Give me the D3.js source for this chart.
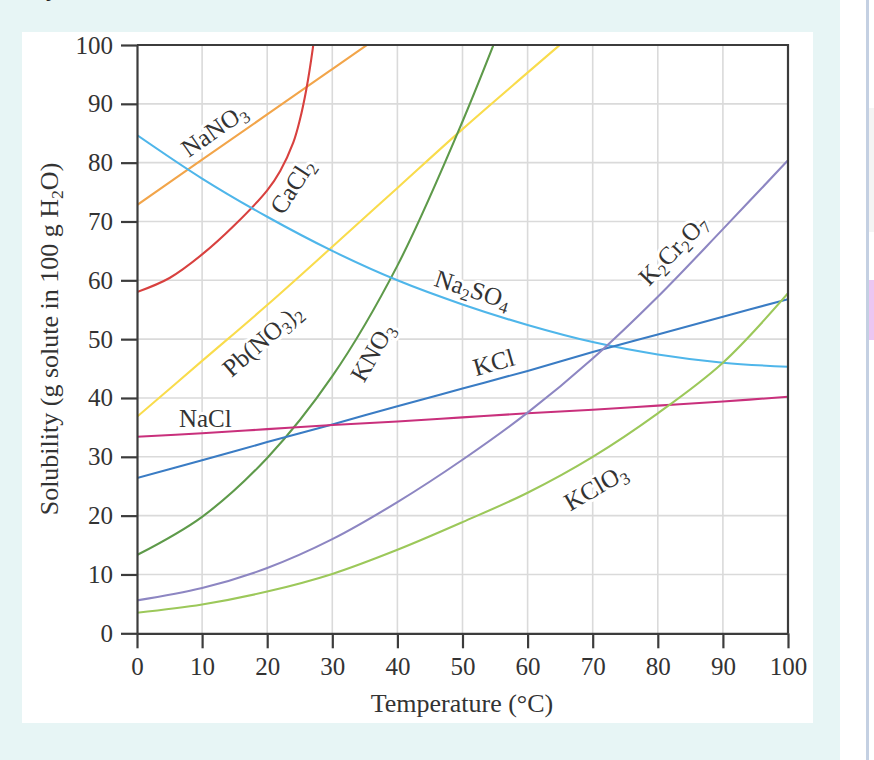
<!DOCTYPE html>
<html><head><meta charset="utf-8">
<script src="https://cdn.jsdelivr.net/npm/d3@7"></script>
<style>
html,body{margin:0;padding:0;background:#fff;}
svg{display:block;}
</style></head>
<body>
<svg id="chart" width="874" height="760"></svg>
<script>
// ---------- data ----------
const temps = [0,10,20,30,40,50,60,70,80,90,100];
const tempsCaCl2 = [0,5,10,15,20,22,24,25,26,27,28];
const NaNO3   = [72.8,80.5,88.2,95.9,103.6,null,null,null,null,null,null];
const CaCl2   = [58,60.4,64.4,69.4,75.3,78.6,83.4,87.2,92.4,99.4,108.5];
const Na2SO4  = [84.7,77.3,70.8,65,60,55.9,52.4,49.5,47.4,46,45.3];
const PbNO32  = [36.8,46.3,55.8,65.7,75.7,85.7,95.3,104.8,null,null,null];
const KNO3    = [13.3,19.8,29.8,43.7,62.5,87,115,null,null,null,null];
const KCl     = [26.4,29.4,32.5,35.5,38.6,41.6,44.6,47.8,50.8,53.8,56.8];
const NaCl    = [33.4,34,34.7,35.4,36,36.7,37.4,38,38.7,39.4,40.2];
const K2Cr2O7 = [5.6,7.7,11.1,16,22.3,29.5,37.5,46.7,57.2,68.7,80.4];
const KClO3   = [3.5,4.9,7.1,10.1,14.2,18.9,23.9,30,37.4,46,57.8];
const xTicks = [0,10,20,30,40,50,60,70,80,90,100];
const yTicks = [0,10,20,30,40,50,60,70,80,90,100];

const series = [
  {name:"NaNO3",   t:temps,      v:NaNO3,   color:"#f2a54a"},
  {name:"CaCl2",   t:tempsCaCl2, v:CaCl2,   color:"#d8413f"},
  {name:"Pb",      t:temps,      v:PbNO32,  color:"#f9dc4c"},
  {name:"KNO3",    t:temps,      v:KNO3,    color:"#5e9a4a"},
  {name:"Na2SO4",  t:temps,      v:Na2SO4,  color:"#4fb6ea"},
  {name:"KCl",     t:temps,      v:KCl,     color:"#3a7cc4"},
  {name:"NaCl",    t:temps,      v:NaCl,    color:"#c9307c"},
  {name:"K2Cr2O7", t:temps,      v:K2Cr2O7, color:"#8d86c2"},
  {name:"KClO3",   t:temps,      v:KClO3,   color:"#9cc85a"}
];

// label parts: [text, isSub]
const labels = [
  {parts:[["NaNO",0],["3",1]], t:11.8, s:85.6, a:-35},
  {parts:[["CaCl",0],["2",1]], t:23.8, s:76, a:-57},
  {parts:[["Pb(NO",0],["3",1],[")",0],["2",1]], t:19.2, s:49.9, a:-41},
  {parts:[["NaCl",0]], t:10.5, s:36.6, a:0},
  {parts:[["KNO",0],["3",1]], t:36.1, s:47.8, a:-60},
  {parts:[["Na",0],["2",1],["SO",0],["4",1]], t:51.6, s:58.5, a:18},
  {parts:[["KCl",0]], t:54.8, s:46.1, a:-16},
  {parts:[["K",0],["2",1],["Cr",0],["2",1],["O",0],["7",1]], t:82.3, s:65.2, a:-46},
  {parts:[["KClO",0],["3",1]], t:70.4, s:24.9, a:-30}
];

// ---------- layout ----------
const svg = d3.select("#chart");
const font = "'Liberation Serif','Times New Roman',serif";
const textColor = "#333";

// page background
svg.append("rect").attr("x",0).attr("y",0).attr("width",840).attr("height",760).attr("fill","#e7f5f5");
svg.append("rect").attr("x",840).attr("y",0).attr("width",34).attr("height",760).attr("fill","#ffffff");
svg.append("rect").attr("x",866).attr("y",0).attr("width",3).attr("height",760).attr("fill","#c4d0e2");
svg.append("rect").attr("x",869).attr("y",108).attr("width",5).attr("height",124).attr("fill","#f4f4f4");
svg.append("rect").attr("x",869).attr("y",280).attr("width",5).attr("height",60).attr("fill","#ebc6f2");
svg.append("text").attr("x",46).attr("y",-4).attr("font-family",font).attr("font-size",26).attr("fill","#222").text("y");
// white panel
svg.append("rect").attr("x",22).attr("y",32).attr("width",791).attr("height",691).attr("fill","#ffffff");

const x = d3.scaleLinear().domain([0,100]).range([137,788]);
const y = d3.scaleLinear().domain([0,100]).range([633.3,45]);

// grid
const grid = svg.append("g").attr("stroke","#dadada").attr("stroke-width",1.6);
grid.selectAll("line.v").data(xTicks.filter(d=>d>0&&d<100)).join("line")
  .attr("x1",d=>x(d)).attr("x2",d=>x(d)).attr("y1",y(0)).attr("y2",y(100));
grid.selectAll("line.h").data(yTicks.filter(d=>d>0&&d<100)).join("line")
  .attr("y1",d=>y(d)).attr("y2",d=>y(d)).attr("x1",x(0)).attr("x2",x(100));

// labels (with white halo over grid)
const lab = svg.append("g").attr("font-family",font).attr("font-size",25).attr("fill",textColor);
labels.forEach(L=>{
  const t = lab.append("text")
    .attr("transform",`translate(${x(L.t)},${y(L.s)}) rotate(${L.a})`)
    .attr("text-anchor","middle").attr("dy","0.35em")
    .attr("stroke","#fff").attr("stroke-width",6).attr("paint-order","stroke").attr("stroke-linejoin","round");
  let prevSub = false;
  L.parts.forEach(([txt,sub])=>{
    const ts = t.append("tspan").text(txt);
    if (sub) { ts.attr("font-size","0.68em").attr("dy", prevSub? "0" : "0.28em"); }
    else if (prevSub) { ts.attr("dy","-0.19em"); }
    prevSub = !!sub;
  });
});

// curves
svg.append("clipPath").attr("id","plotclip").append("rect")
  .attr("x",x(0)).attr("y",y(100)).attr("width",x(100)-x(0)).attr("height",y(0)-y(100));
const line = d3.line().defined(d=>d[1]!=null).x(d=>x(d[0])).y(d=>y(d[1])).curve(d3.curveCatmullRom.alpha(0.5));
const curves = svg.append("g").attr("clip-path","url(#plotclip)");
series.forEach(S=>{
  const pts = S.t.map((t,i)=>[t,S.v[i]]).filter(d=>d[1]!=null);
  curves.append("path").datum(pts).attr("d",line)
    .attr("fill","none").attr("stroke",S.color).attr("stroke-width",2.1);
});

// axes
const axisColor = "#3c3c3c";
const yAxis = svg.append("g").attr("transform",`translate(${x(0)},0)`)
  .call(d3.axisLeft(y).tickValues(yTicks).tickSize(16).tickSizeOuter(0).tickPadding(8).tickFormat(d3.format("d")));
const xAxis = svg.append("g").attr("transform",`translate(0,${y(0)})`)
  .call(d3.axisBottom(x).tickValues(xTicks).tickSize(15).tickSizeOuter(0).tickPadding(9).tickFormat(d3.format("d")));
[yAxis,xAxis].forEach(g=>{
  g.selectAll("path.domain").attr("stroke",axisColor).attr("stroke-width",2.2);
  g.selectAll(".tick line").attr("stroke",axisColor).attr("stroke-width",2.2);
  g.selectAll(".tick text").attr("font-family",font).attr("font-size",25).attr("fill",textColor);
});
// frame top/right
svg.append("path")
  .attr("d",`M${x(0)},${y(100)}H${x(100)}V${y(0)}`)
  .attr("fill","none").attr("stroke",axisColor).attr("stroke-width",2.2);

// axis titles
svg.append("text").attr("x",462).attr("y",712).attr("text-anchor","middle")
  .attr("font-family",font).attr("font-size",26).attr("fill",textColor).text("Temperature (°C)");
const yt = svg.append("text").attr("transform","translate(58,339) rotate(-90)").attr("text-anchor","middle")
  .attr("font-family",font).attr("font-size",26).attr("fill",textColor);
yt.append("tspan").text("Solubility (g solute in 100 g H");
yt.append("tspan").attr("font-size","0.68em").attr("dy","0.28em").text("2");
yt.append("tspan").attr("dy","-0.19em").text("O)");
</script>
</body></html>
